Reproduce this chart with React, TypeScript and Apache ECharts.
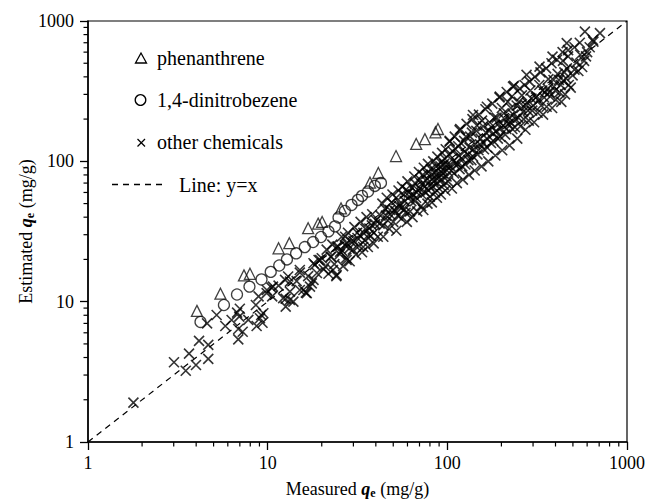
import React, { useEffect, useRef } from "react";
import * as echarts from "echarts";

// phenanthrene (measured, estimated)
const phenanthrene: [number, number][] = [
  [4.04, 8.6], [5.46, 11.4], [7.38, 15.4], [7.97, 15.8], [11.5, 24.0], [13.2, 26.1],
  [16.8, 33.4], [19.1, 36.0], [20.1, 37.0], [25.6, 46.2], [37.1, 70.5], [41.3, 82.6],
  [51.8, 109], [67.1, 133], [75.0, 144], [85.9, 161], [88.7, 170],
];

// 1,4-dinitrobenzene
const dinitrobenzene: [number, number][] = [
  [4.23, 7.17], [5.71, 9.47], [6.75, 11.25], [7.92, 12.8], [9.24, 14.4], [10.4, 16.3],
  [11.6, 18.1], [12.8, 20.0], [14.4, 22.1], [16.1, 24.5], [17.9, 26.6], [19.8, 28.9],
  [21.8, 31.7], [23.7, 34.4], [24.8, 39.8], [26.9, 44.3], [29.3, 48.9], [31.8, 53.1],
  [33.5, 56.7], [36.2, 61.0], [39.5, 66.8], [42.7, 70.2],
];

// other chemicals
const otherChemicals: [number, number][] = [
  [1.79, 1.91], [3.01, 3.7], [3.5, 3.22], [3.65, 4.26], [3.99, 3.54], [4.15, 5.25],
  [4.67, 4.92], [4.67, 3.91], [4.6, 7.0], [5.2, 8.04], [5.81, 6.71], [6.86, 5.39],
  [6.86, 6.39], [7.26, 6.11], [6.95, 7.82], [7.0, 8.9], [7.8, 7.41], [8.68, 6.71],
  [8.6, 9.47], [9.06, 7.62], [9.46, 8.27], [9.36, 7.08], [6.76, 8.35], [6.3, 7.4],
  [9.87, 11.5], [10.5, 12.6], [10.6, 10.9], [12.6, 9.21], [12.6, 10.5], [13.3, 11.8],
  [13.9, 10.0], [13.3, 13.9], [15.1, 16.1], [15.8, 12.1], [16.3, 11.6], [17.6, 13.5],
  [18.0, 18.8], [19.2, 19.8], [20.0, 20.4], [18.8, 16.0], [9.9, 12.1], [10.7, 12.8],
  [12.5, 14.3], [13.0, 15.1], [15.1, 16.8], [12.2, 10.6], [13.3, 10.3], [15.1, 12.1],
  [16.5, 11.5], [18, 14.3], [18.3, 18.3], [19.6, 19.8], [20.9, 17.8], [22.6, 20.9],
  [24.2, 24.6], [25.3, 22.7], [27.5, 26.0], [27.5, 19.8], [23.1, 16.8], [24.2, 15.5],
  [8.9, 10.9], [9.2, 8.04], [11.5, 13.0], [14.5, 14.0], [16.8, 15.2], [17.2, 12.8],
  [20.5, 17.0], [21.3, 23.5], [21.8, 15.8], [22.4, 20.9], [22.9, 25.5], [23.5, 18.5],
  [24.1, 15.2], [24.6, 24.8], [25.2, 21.8], [25.8, 29.0], [26.3, 17.9], [26.9, 25.3],
  [27.4, 20.5], [28.0, 31.0], [28.6, 19.4], [29.1, 26.8], [29.8, 23.5], [30.4, 34.0],
  [31.0, 21.7], [31.6, 28.4], [32.2, 25.0], [32.9, 37.0], [33.5, 22.5], [34.1, 30.9],
  [34.8, 27.3], [35.5, 40.0], [36.1, 24.5], [36.8, 33.2], [37.5, 29.4], [38.2, 42.0],
  [38.9, 26.0], [39.6, 35.7],
  [26, 23], [27, 29], [28.5, 24], [30, 27], [31.5, 31], [33, 29], [34, 24.5], [35, 33],
  [36.5, 30], [38, 35], [39, 31], [40, 38], [41, 29], [42.5, 41], [44, 35], [45, 46],
  [46.5, 38], [48, 42], [49, 51], [50.5, 45], [52, 55], [53, 41], [54.5, 50], [56, 47],
  [57, 58], [58.5, 43], [59, 63],
  [42, 36], [43.5, 50], [44, 29], [45.5, 41], [46, 55], [47.5, 33], [48, 45], [49.5, 58],
  [50, 37], [51.5, 44], [52, 32], [53.5, 62], [54, 48], [55.5, 39], [56, 66], [57.5, 45],
  [58, 52], [59.5, 37], [60, 72], [61.5, 56], [62, 44], [63.5, 65], [64, 40], [65.5, 78],
  [66, 52], [67.5, 60], [68, 44], [69.5, 84], [70, 64], [71.5, 48], [72, 69], [73.5, 45],
  [74, 90], [75.5, 60], [76, 73], [77.5, 50], [78, 96], [79.5, 67], [80, 56], [81.5, 80],
  [82, 51], [83.5, 100], [84, 72], [85.5, 60], [86, 84], [87.5, 55], [88, 108], [89.5, 76],
  [90, 64], [91.5, 92], [92, 58], [93.5, 115], [94, 82], [95.5, 68], [96, 96], [97.5, 62],
  [98, 122], [99.5, 86],
  [61, 60], [63, 52], [64.5, 58], [66, 70], [67, 55], [69, 62], [70.5, 74], [72, 58],
  [73, 80], [75, 66], [77, 82], [78.5, 62], [80, 72], [81, 88], [83, 66], [85, 78],
  [86.5, 92], [88, 70], [90, 82], [92, 98], [93, 74], [95, 86], [97, 104], [99, 78],
  [100, 95], [102, 112], [105, 86], [108, 100], [111, 122], [114, 95], [116, 110], [119, 135],
  [121, 92], [125, 118], [127, 150], [131, 102], [133, 125], [137, 160], [139, 108], [143, 132],
  [146, 180], [149, 120], [153, 145], [156, 195], [159, 135], [164, 160], [167, 125], [171, 165],
  [101, 72], [103, 140], [104, 92], [106, 64], [107, 118], [109, 82], [110, 150], [112, 98],
  [113, 70], [115, 128], [117, 88], [118, 170], [120, 105], [122, 74], [124, 140], [126, 95],
  [128, 185], [130, 112], [132, 80], [134, 150], [136, 102], [138, 200], [140, 122], [142, 86],
  [145, 165], [147, 112], [150, 215], [152, 132], [155, 92], [158, 178], [160, 122], [163, 235],
  [166, 145], [169, 100], [172, 190], [175, 135], [178, 258], [181, 158], [185, 110], [188, 205],
  [191, 145], [195, 285], [198, 172], [202, 120], [206, 220], [210, 155], [214, 312], [218, 185],
  [222, 130], [226, 240], [230, 170], [235, 345], [240, 200], [245, 145], [250, 265],
  [176, 175], [180, 140], [183, 205], [187, 165], [192, 185], [197, 150], [201, 240], [205, 180],
  [209, 200], [213, 170], [217, 265], [221, 205], [225, 190], [229, 290], [233, 215], [238, 175],
  [243, 250], [248, 205], [253, 330], [258, 240], [264, 225], [269, 350], [275, 250], [281, 230],
  [287, 370], [294, 280], [300, 250], [307, 400], [315, 290], [322, 270], [330, 430], [338, 320],
  [346, 285], [355, 460], [362, 330], [370, 310], [380, 500], [390, 380], [398, 320], [408, 530],
  [418, 380], [428, 350], [438, 600], [448, 430], [458, 390], [470, 620],
  [255, 178], [260, 295], [266, 200], [272, 168], [278, 262], [284, 195], [290, 320], [297, 230],
  [304, 190], [311, 285], [318, 222], [325, 350], [333, 250], [341, 215], [349, 310], [357, 245],
  [365, 385], [374, 290], [383, 240], [392, 340], [401, 275], [411, 420], [421, 310], [431, 265],
  [441, 375], [452, 300], [463, 460], [474, 350], [486, 335], [498, 410], [510, 450], [523, 505],
  [536, 440], [549, 575], [563, 470], [577, 520], [591, 560], [583, 840], [546, 700], [510, 650],
  [470, 560], [440, 520], [646, 733], [707, 819], [650, 713], [620, 650], [600, 600],
  [166, 245], [196, 289], [232, 341], [276, 413], [326, 473], [385, 557], [462, 695], [139, 214],
  [117, 167], [103, 138],
];

const lineYX: [number, number][] = [[1, 1], [1000, 1000]];

const minorTickValues = [2, 3, 4, 5, 6, 7, 8, 9, 20, 30, 40, 50, 60, 70, 80, 90, 200, 300, 400, 500, 600, 700, 800, 900];

const legendLabels = ["phenanthrene", "1,4-dinitrobezene", "other chemicals", "Line: y=x"];

const FONT = "Liberation Serif";

export default function App() {
  const ref = useRef<HTMLDivElement>(null);
  useEffect(() => {
    if (!ref.current) return;
    const chart = echarts.init(ref.current, null, { renderer: "svg" });
    const richName = {
      a: { fontSize: 18, fontFamily: FONT, color: "#000", lineHeight: 20 },
      q: { fontSize: 18, fontFamily: FONT, color: "#000", fontWeight: "bold", fontStyle: "italic", lineHeight: 20 },
      e: { fontSize: 12, fontFamily: FONT, color: "#000", fontWeight: "bold", verticalAlign: "bottom", lineHeight: 12 },
    };
    const axisCommon = {
      type: "log",
      logBase: 10,
      min: 1,
      max: 1000,
      nameLocation: "middle",
      nameMoveOverlap: false,
      axisLine: { show: true, lineStyle: { color: "#000", width: 1.5 } },
      axisTick: { show: true, inside: false, length: 8, lineStyle: { color: "#000", width: 1.3 } },
      splitLine: { show: false },
      axisLabel: {
        color: "#000",
        fontSize: 18,
        fontFamily: FONT,
        showMinLabel: true,
        showMaxLabel: true,
        formatter: (v: number) => String(Math.round(v)),
      },
    };
    const crossPath = "path://M0 0L10 10M10 0L0 10";
    const legendText = (text: string, x: number, y: number) => ({
      type: "text",
      x,
      y,
      style: { text, fontSize: 20, fontFamily: FONT, fill: "#000", verticalAlign: "middle" },
    });
    chart.setOption({
      animation: false,
      textStyle: { fontFamily: FONT },
      grid: {
        left: 88, right: 20, top: 21, bottom: 61,
        containLabel: false,
        outerBoundsMode: "none",
        show: true, borderColor: "#000", borderWidth: 1.2,
      },
      xAxis: {
        ...axisCommon,
        name: "{a|Measured }{q|q}{e|e}{a| (mg/g)}",
        nameGap: 37,
        nameTextStyle: { rich: richName },
        axisLabel: { ...axisCommon.axisLabel, margin: 12 },
      },
      yAxis: {
        ...axisCommon,
        name: "{a|Estimated }{q|q}{e|e}{a| (mg/g)}",
        nameGap: 52,
        nameTextStyle: { rich: richName },
        axisLabel: { ...axisCommon.axisLabel, margin: 14 },
      },
      series: [
        {
          type: "line",
          data: lineYX,
          symbol: "none",
          lineStyle: { color: "#000", width: 1.2, type: [6, 5] },
          silent: true,
          z: 1,
        },
        {
          type: "scatter",
          name: legendLabels[2],
          data: otherChemicals,
          symbol: crossPath,
          symbolSize: 10,
          itemStyle: { color: "rgba(0,0,0,0)", borderColor: "#000", borderWidth: 1.6 },
          z: 2,
        },
        {
          type: "scatter",
          name: legendLabels[1],
          data: dinitrobenzene,
          symbol: "circle",
          symbolSize: 11,
          itemStyle: { color: "rgba(0,0,0,0)", borderColor: "#111", borderWidth: 1.3 },
          z: 3,
        },
        {
          type: "scatter",
          name: legendLabels[0],
          data: phenanthrene,
          symbol: "triangle",
          symbolSize: [11, 11],
          itemStyle: { color: "rgba(0,0,0,0)", borderColor: "#111", borderWidth: 1.3 },
          z: 4,
        },
        {
          type: "custom",
          data: minorTickValues.map((v) => [v, 1]),
          silent: true,
          clip: false,
          renderItem: (_p: any, api: any) => {
            const pt = api.coord([api.value(0), 1]);
            return {
              type: "line",
              shape: { x1: pt[0], y1: pt[1], x2: pt[0], y2: pt[1] + 4.5 },
              style: { stroke: "#000", lineWidth: 1.2 },
            };
          },
        },
        {
          type: "custom",
          data: minorTickValues.map((v) => [1, v]),
          silent: true,
          clip: false,
          renderItem: (_p: any, api: any) => {
            const pt = api.coord([1, api.value(1)]);
            return {
              type: "line",
              shape: { x1: pt[0] - 4.5, y1: pt[1], x2: pt[0], y2: pt[1] },
              style: { stroke: "#000", lineWidth: 1.2 },
            };
          },
        },
      ],
      graphic: [
        { type: "polygon", shape: { points: [[141, 53], [135.5, 63], [146.5, 63]] }, style: { fill: "none", stroke: "#000", lineWidth: 1.3 } },
        { type: "circle", shape: { cx: 140.5, cy: 100, r: 5.3 }, style: { fill: "none", stroke: "#000", lineWidth: 1.3 } },
        { type: "line", shape: { x1: 137.5, y1: 139, x2: 145, y2: 146.5 }, style: { stroke: "#000", lineWidth: 1.3 } },
        { type: "line", shape: { x1: 145, y1: 139, x2: 137.5, y2: 146.5 }, style: { stroke: "#000", lineWidth: 1.3 } },
        { type: "line", shape: { x1: 112, y1: 184.5, x2: 165, y2: 184.5 }, style: { stroke: "#000", lineWidth: 1.3, lineDash: [6, 5] } },
        legendText(legendLabels[0], 157, 58),
        legendText(legendLabels[1], 157, 100),
        legendText(legendLabels[2], 157, 142),
        legendText(legendLabels[3], 179, 185),
      ],
    });
    return () => chart.dispose();
  }, []);
  return (
    <div
      ref={ref}
      style={{ position: "absolute", left: 0, top: 0, width: 647, height: 503, background: "#fff" }}
    />
  );
}
